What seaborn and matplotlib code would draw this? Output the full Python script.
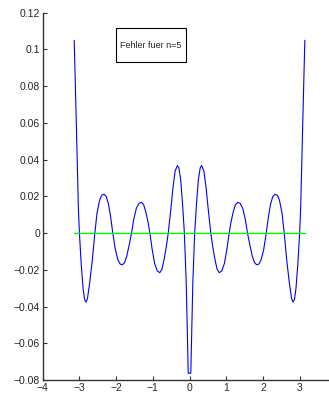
import matplotlib
matplotlib.use("Agg")
import matplotlib.pyplot as plt
import seaborn as sns
import pandas as pd
from matplotlib.patches import Rectangle

# Fehlerkurve
x_err = [-3.1416, -3.08, -3.03, -3.00, -2.95, -2.90, -2.86, -2.82, -2.78, -2.72,
         -2.65, -2.58, -2.52, -2.45, -2.39, -2.33, -2.27, -2.21, -2.15, -2.09,
         -2.02, -1.95, -1.89, -1.83, -1.77, -1.71, -1.65, -1.58, -1.52, -1.45,
         -1.38, -1.31, -1.25, -1.19, -1.13, -1.08, -1.02, -0.95, -0.88, -0.81,
         -0.75, -0.69, -0.63, -0.58, -0.52, -0.45, -0.39, -0.33, -0.29, -0.24,
         -0.19, -0.14, -0.09, -0.035,
         0.035, 0.09, 0.14, 0.19, 0.24, 0.29, 0.33, 0.39, 0.45, 0.52,
         0.58, 0.63, 0.69, 0.75, 0.81, 0.88, 0.95, 1.02, 1.08, 1.13,
         1.19, 1.25, 1.31, 1.38, 1.45, 1.52, 1.58, 1.65, 1.71, 1.77,
         1.83, 1.89, 1.95, 2.02, 2.09, 2.15, 2.21, 2.27, 2.33, 2.39,
         2.45, 2.52, 2.58, 2.65, 2.72, 2.78, 2.82, 2.86, 2.90, 2.95,
         3.00, 3.03, 3.08, 3.1416]
y_err = [0.1050, 0.0560, 0.0150, 0.0000, -0.0170, -0.0300, -0.0360, -0.0375, -0.0355, -0.0270,
         -0.0150, 0.0000, 0.0110, 0.0180, 0.0207, 0.0212, 0.0200, 0.0160, 0.0090, 0.0000,
         -0.0090, -0.0145, -0.0168, -0.0172, -0.0160, -0.0125, -0.0070, 0.0000, 0.0075, 0.0135,
         0.0162, 0.0168, 0.0155, 0.0115, 0.0060, 0.0000, -0.0085, -0.0165, -0.0205, -0.0215,
         -0.0195, -0.0140, -0.0070, 0.0000, 0.0110, 0.0250, 0.0340, 0.0368, 0.0355, 0.0290,
         0.0160, 0.0000, -0.0270, -0.0762,
         -0.0762, -0.0270, 0.0000, 0.0160, 0.0290, 0.0355, 0.0368, 0.0340, 0.0250, 0.0110,
         0.0000, -0.0070, -0.0140, -0.0195, -0.0215, -0.0205, -0.0165, -0.0085, 0.0000, 0.0060,
         0.0115, 0.0155, 0.0168, 0.0162, 0.0135, 0.0075, 0.0000, -0.0070, -0.0125, -0.0160,
         -0.0172, -0.0168, -0.0145, -0.0090, 0.0000, 0.0090, 0.0160, 0.0200, 0.0212, 0.0207,
         0.0180, 0.0110, 0.0000, -0.0150, -0.0270, -0.0355, -0.0375, -0.0360, -0.0300, -0.0170,
         0.0000, 0.0150, 0.0560, 0.1050]

# Nulllinie
x_null = [-3.1416, 3.1416]
y_null = [0.0, 0.0]

x_ticks = [-4, -3, -2, -1, 0, 1, 2, 3]
x_labels = ["\u22124", "\u22123", "\u22122", "\u22121", "0", "1", "2", "3"]
y_ticks = [-0.08, -0.06, -0.04, -0.02, 0, 0.02, 0.04, 0.06, 0.08, 0.1, 0.12]
y_labels = ["\u22120.08", "\u22120.06", "\u22120.04", "\u22120.02", "0",
            "0.02", "0.04", "0.06", "0.08", "0.1", "0.12"]
titel = "Fehler fuer n=5"

sns.set_style("ticks")
plt.rcParams["font.family"] = ["Liberation Sans", "DejaVu Sans"]
plt.rcParams["xtick.direction"] = "in"
plt.rcParams["ytick.direction"] = "in"

df = pd.DataFrame({"x": x_err, "y": y_err})
df0 = pd.DataFrame({"x": x_null, "y": y_null})

fig = plt.figure(figsize=(3.29, 4.01), dpi=100)
ax = fig.add_axes([0.1298, 0.0519, 0.8925, 0.9164])

sns.lineplot(data=df, x="x", y="y", sort=False, estimator=None,
             color="#0000ff", linewidth=0.8, ax=ax)
sns.lineplot(data=df0, x="x", y="y", sort=False, estimator=None,
             color="#00ff00", linewidth=1.0, ax=ax)

ax.set_xlim(-4, 4)
ax.set_ylim(-0.08, 0.12)
ax.set_xticks(x_ticks)
ax.set_xticklabels(x_labels)
ax.set_yticks(y_ticks)
ax.set_yticklabels(y_labels)
ax.set_xlabel("")
ax.set_ylabel("")
ax.tick_params(length=3, width=0.8, labelsize=7.5, color="#333333", pad=2)

for s in ["top", "right"]:
    ax.spines[s].set_visible(False)
for s in ["left", "bottom"]:
    ax.spines[s].set_color("#333333")
    ax.spines[s].set_linewidth(1.0)

# Textkasten
ax.add_patch(Rectangle((0.2507, 0.865), 0.2373, 0.093, transform=ax.transAxes,
                       facecolor="white", edgecolor="black", linewidth=0.8, zorder=5))
ax.text(0.369, 0.912, titel, transform=ax.transAxes, ha="center", va="center",
        fontsize=6.5, zorder=6)

fig.savefig("out.png", dpi=100)
